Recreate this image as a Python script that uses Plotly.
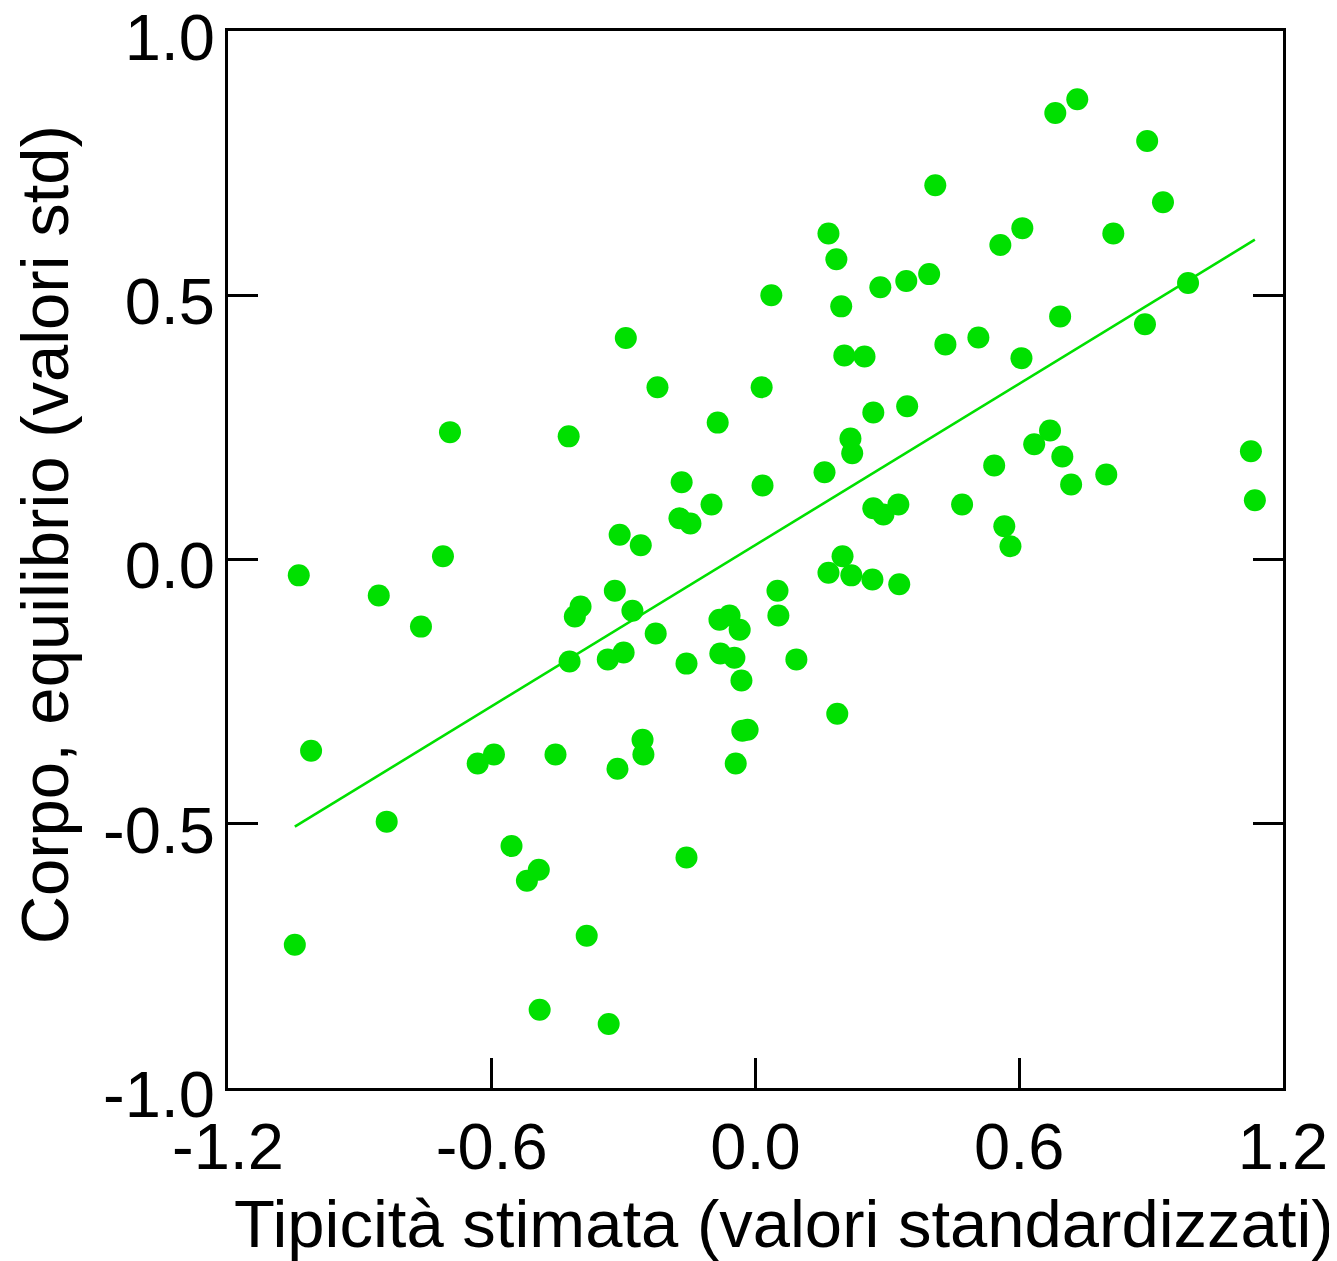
import numpy as np
import plotly.graph_objects as go

# Data
tipicita = [
    -1.039, -1.011, -1.048, -0.857, -0.839, -0.761, -0.711, -0.695, -0.632, -0.595,
    -0.555, -0.520, -0.493, -0.491, -0.455, -0.423, -0.425, -0.411, -0.398, -0.384,
    -0.336, -0.334, -0.320, -0.314, -0.309, -0.300, -0.295, -0.280, -0.261, -0.257,
    -0.255, -0.227, -0.223, -0.168, -0.173, -0.148, -0.157, -0.157, -0.100, -0.086,
    -0.082, -0.080, -0.059, -0.048, -0.045, -0.036, -0.032, -0.030, -0.018, 0.014,
    0.016, 0.036, 0.050, 0.052, 0.093, 0.157, 0.166, 0.166, 0.184, 0.186,
    0.195, 0.198, 0.202, 0.216, 0.218, 0.220, 0.248, 0.266, 0.268, 0.268,
    0.284, 0.291, 0.325, 0.327, 0.343, 0.345, 0.395, 0.409, 0.432, 0.470,
    0.507, 0.543, 0.557, 0.566, 0.580, 0.605, 0.607, 0.634, 0.670, 0.682,
    0.693, 0.698, 0.718, 0.732, 0.798, 0.814, 0.886, 0.891, 0.927, 0.984,
    1.127, 1.136,
]
corpo = [
    -0.030, -0.362, -0.729, -0.068, -0.496, -0.127, 0.006, 0.241, -0.386, -0.369,
    -0.542, -0.608, -0.587, -0.852, -0.369, -0.193, 0.233, -0.108, -0.089, -0.712,
    -0.189, -0.879, -0.059, -0.396, 0.047, -0.176, 0.419, -0.097, 0.027, -0.341,
    -0.369, -0.140, 0.326, 0.146, 0.078, 0.068, -0.197, -0.564, 0.104, 0.259,
    -0.114, -0.178, -0.106, -0.186, -0.386, -0.133, -0.229, -0.324, -0.322, 0.326,
    0.140, 0.500, -0.059, -0.106, -0.189, 0.165, 0.617, -0.025, 0.568, -0.292,
    0.479, 0.006, 0.386, 0.229, -0.030, 0.201, 0.384, -0.038, 0.278, 0.097,
    0.515, 0.085, 0.104, -0.047, 0.527, 0.290, 0.540, 0.708, 0.407, 0.104,
    0.420, 0.178, 0.595, 0.063, 0.025, 0.381, 0.627, 0.218, 0.244, 0.845,
    0.460, 0.195, 0.142, 0.871, 0.161, 0.617, 0.445, 0.792, 0.676, 0.523,
    0.205, 0.112,
]

x_ticks = [-1.2, -0.6, 0.0, 0.6, 1.2]
x_labels = ["-1.2", "-0.6", "0.0", "0.6", "1.2"]
y_ticks = [-1.0, -0.5, 0.0, 0.5, 1.0]
y_labels = ["-1.0", "-0.5", "0.0", "0.5", "1.0"]

x_title = "Tipicità stimata (valori standardizzati)"
y_title = "Corpo, equilibrio (valori std)"

GREEN = "#00e000"
FONT = "Liberation Sans, Arial, sans-serif"

xa = np.array(tipicita)
ya = np.array(corpo)
slope, intercept = np.polyfit(xa, ya, 1)
line_x = [xa.min(), xa.max()]
line_y = [slope * v + intercept for v in line_x]

fig = go.Figure()
fig.add_trace(go.Scatter(
    x=line_x, y=line_y, mode="lines",
    line=dict(color=GREEN, width=2.6), hoverinfo="skip", showlegend=False,
))
fig.add_trace(go.Scatter(
    x=tipicita, y=corpo, mode="markers",
    marker=dict(color=GREEN, size=22, line=dict(width=0)),
    showlegend=False,
))

axis_common = dict(
    showgrid=False, zeroline=False, showline=True, linecolor="black", linewidth=3,
    ticks="inside", ticklen=30, tickwidth=2.5, tickcolor="black",
    tickfont=dict(family=FONT, size=65, color="black"),
    ticklabeloverflow="allow", automargin=False,
)

fig.update_xaxes(range=[-1.2, 1.2], tickvals=x_ticks, ticktext=x_labels,
                 mirror=True, ticklabelstandoff=0, **axis_common)
fig.update_yaxes(range=[-1.0, 1.0], tickvals=y_ticks, ticktext=y_labels,
                 mirror="ticks", ticklabelstandoff=-3, ticklabelshift=6, **axis_common)

fig.add_annotation(
    text=x_title, xref="paper", yref="paper", x=(783 - 226) / 1057, y=0,
    yanchor="top", xanchor="center", yshift=-96, showarrow=False,
    font=dict(family=FONT, size=67, color="black"),
)
fig.add_annotation(
    text=y_title, xref="paper", yref="paper", x=(42 - 226) / 1057, y=(1087 - 534) / 1057,
    xanchor="center", yanchor="middle", textangle=-90, showarrow=False,
    font=dict(family=FONT, size=67, color="black"),
)

# page body adds a small offset; compensate so the plot area sits where it does in the reference
fig.update_layout(
    width=1329, height=1253,
    margin=dict(l=220, r=54, t=23, b=173, autoexpand=False),
    plot_bgcolor="white", paper_bgcolor="white",
)

fig.write_html("out.html")
